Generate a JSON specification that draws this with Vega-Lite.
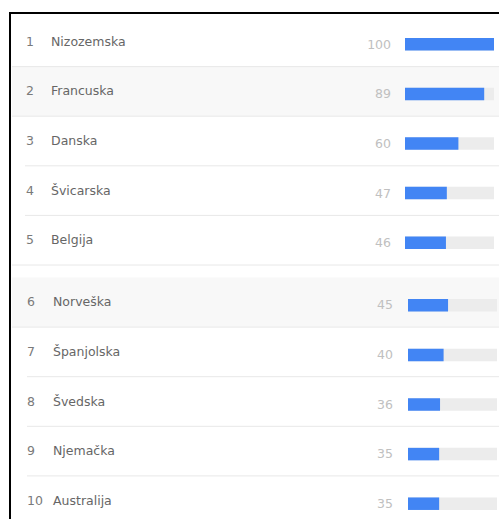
{
  "$schema": "https://vega.github.io/schema/vega-lite/v6.json",
  "width": 495,
  "height": 512,
  "autosize": {"type": "none"},
  "padding": {"left": 10, "top": 13, "right": -6, "bottom": -6},
  "background": "#ffffff",
  "config": {
    "view": {"stroke": "#000000", "strokeWidth": 2, "fill": "#ffffff"},
    "text": {"font": "DejaVu Sans", "fontSize": 12.5}
  },
  "data": {
    "values": [
      {"rank": 1, "country": "Nizozemska", "value": 100},
      {"rank": 2, "country": "Francuska", "value": 89},
      {"rank": 3, "country": "Danska", "value": 60},
      {"rank": 4, "country": "Švicarska", "value": 47},
      {"rank": 5, "country": "Belgija", "value": 46},
      {"rank": 6, "country": "Norveška", "value": 45},
      {"rank": 7, "country": "Španjolska", "value": 40},
      {"rank": 8, "country": "Švedska", "value": 36},
      {"rank": 9, "country": "Njemačka", "value": 35},
      {"rank": 10, "country": "Australija", "value": 35}
    ]
  },
  "resolve": {"scale": {"x": "independent", "y": "independent"}},
  "layer": [
    {
      "transform": [{"filter": "datum.rank <= 5"}],
      "encoding": {
        "y": {"field": "rank", "type": "ordinal", "axis": null,
              "scale": {"type": "band", "domain": [1, 2, 3, 4, 5], "range": [4, 252], "paddingInner": 0, "paddingOuter": 0}}
      },
      "layer": [
        {
          "transform": [{"filter": {"field": "rank", "oneOf": [2]}}],
          "mark": {"type": "rect", "color": "#f8f8f8"},
          "encoding": {"x": {"value": 2}, "x2": {"value": 495}}
        },
        {
          "transform": [{"filter": {"field": "rank", "oneOf": [1, 2, 5]}}],
          "mark": {"type": "rule", "color": "#e8e8e8", "strokeWidth": 1},
          "encoding": {"y": {"field": "rank", "type": "ordinal", "bandPosition": 1}, "x": {"value": 2}, "x2": {"value": 495}}
        },
        {
          "transform": [{"filter": {"field": "rank", "oneOf": [3, 4]}}],
          "mark": {"type": "rule", "color": "#e8e8e8", "strokeWidth": 1},
          "encoding": {"y": {"field": "rank", "type": "ordinal", "bandPosition": 1}, "x": {"value": 15}, "x2": {"value": 495}}
        },
        {
          "mark": {"type": "bar", "color": "#ececec", "height": 12.5, "yOffset": 2.5},
          "encoding": {
            "x": {"datum": 0, "type": "quantitative", "axis": null, "scale": {"domain": [0, 100], "range": [395, 484]}},
            "x2": {"datum": 100}
          }
        },
        {
          "mark": {"type": "bar", "color": "#4285f4", "height": 12.5, "yOffset": 2.5},
          "encoding": {
            "x": {"field": "value", "type": "quantitative", "axis": null, "scale": {"domain": [0, 100], "range": [395, 484]}},
            "x2": {"datum": 0}
          }
        },
        {
          "mark": {"type": "text", "align": "left", "baseline": "middle", "color": "#7a7a7a"},
          "encoding": {"text": {"field": "rank"}, "x": {"value": 16}}
        },
        {
          "mark": {"type": "text", "align": "left", "baseline": "middle", "color": "#666666"},
          "encoding": {"text": {"field": "country"}, "x": {"value": 41}}
        },
        {
          "mark": {"type": "text", "align": "right", "baseline": "middle", "color": "#c0c0c0", "yOffset": 3},
          "encoding": {"text": {"field": "value"}, "x": {"value": 381}}
        }
      ]
    },
    {
      "transform": [{"filter": "datum.rank > 5"}],
      "encoding": {
        "y": {"field": "rank", "type": "ordinal", "axis": null,
              "scale": {"type": "band", "domain": [6, 7, 8, 9, 10], "range": [264.5, 512.5], "paddingInner": 0, "paddingOuter": 0}}
      },
      "layer": [
        {
          "transform": [{"filter": {"field": "rank", "oneOf": [6]}}],
          "mark": {"type": "rect", "color": "#f8f8f8"},
          "encoding": {"x": {"value": 2}, "x2": {"value": 495}}
        },
        {
          "transform": [{"filter": {"field": "rank", "oneOf": [6]}}],
          "mark": {"type": "rule", "color": "#e8e8e8", "strokeWidth": 1},
          "encoding": {"y": {"field": "rank", "type": "ordinal", "bandPosition": 1}, "x": {"value": 2}, "x2": {"value": 495}}
        },
        {
          "transform": [{"filter": {"field": "rank", "oneOf": [7, 8, 9]}}],
          "mark": {"type": "rule", "color": "#e8e8e8", "strokeWidth": 1},
          "encoding": {"y": {"field": "rank", "type": "ordinal", "bandPosition": 1}, "x": {"value": 17}, "x2": {"value": 495}}
        },
        {
          "mark": {"type": "bar", "color": "#ececec", "height": 12.5, "yOffset": 3},
          "encoding": {
            "x": {"datum": 0, "type": "quantitative", "axis": null, "scale": {"domain": [0, 100], "range": [398, 487]}},
            "x2": {"datum": 100}
          }
        },
        {
          "mark": {"type": "bar", "color": "#4285f4", "height": 12.5, "yOffset": 3},
          "encoding": {
            "x": {"field": "value", "type": "quantitative", "axis": null, "scale": {"domain": [0, 100], "range": [398, 487]}},
            "x2": {"datum": 0}
          }
        },
        {
          "mark": {"type": "text", "align": "left", "baseline": "middle", "color": "#7a7a7a"},
          "encoding": {"text": {"field": "rank"}, "x": {"value": 17}}
        },
        {
          "mark": {"type": "text", "align": "left", "baseline": "middle", "color": "#666666"},
          "encoding": {"text": {"field": "country"}, "x": {"value": 43}}
        },
        {
          "mark": {"type": "text", "align": "right", "baseline": "middle", "color": "#c0c0c0", "yOffset": 3},
          "encoding": {"text": {"field": "value"}, "x": {"value": 383}}
        }
      ]
    }
  ]
}
